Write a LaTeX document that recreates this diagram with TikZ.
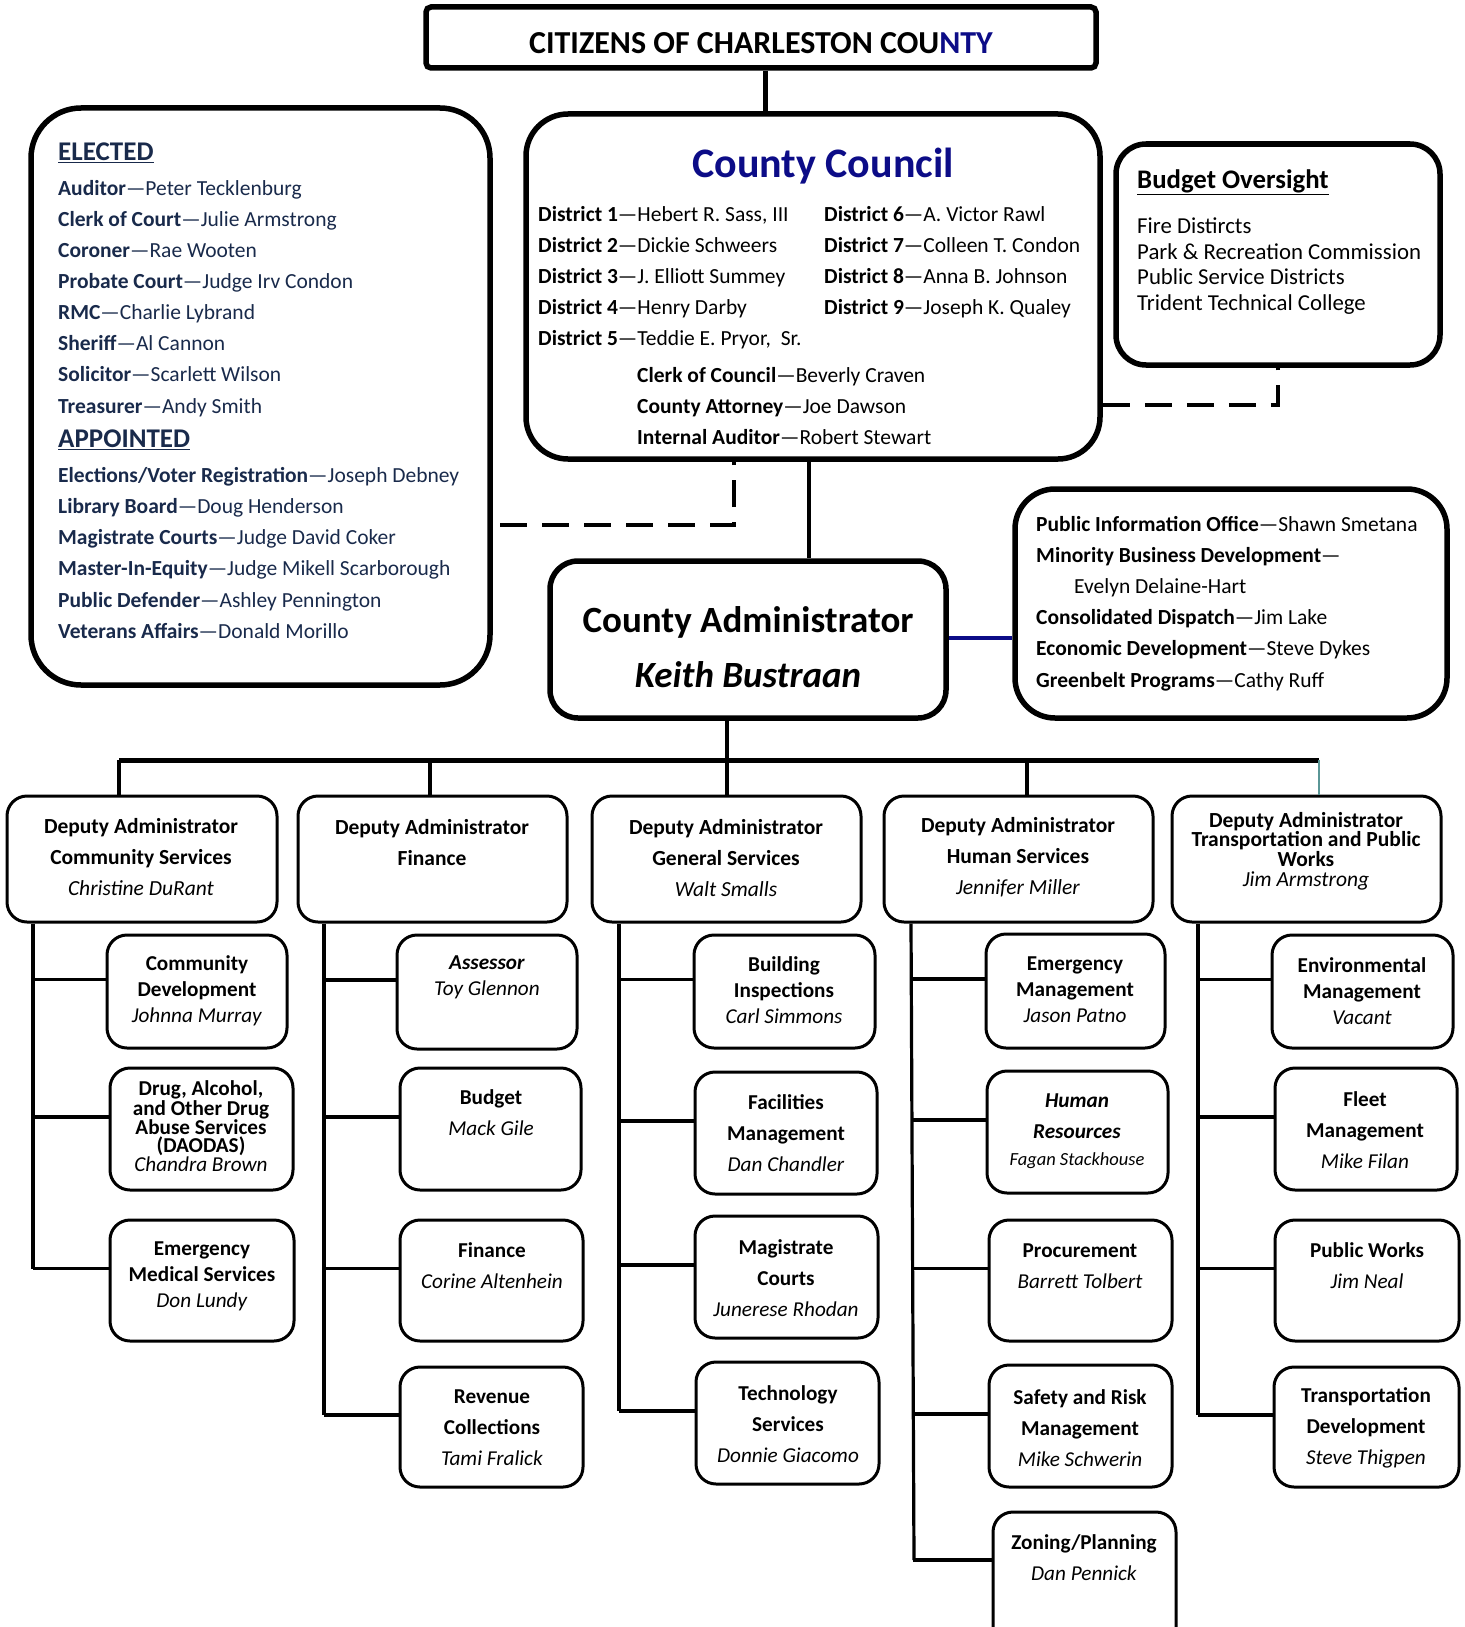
\documentclass[tikz,border=0pt]{standalone}
\usepackage{fontspec}
\setmainfont{Carlito}
\usetikzlibrary{calc}
\definecolor{navy}{RGB}{12,12,135}
\definecolor{lbt}{RGB}{25,42,75}
\definecolor{tealc}{RGB}{90,150,150}
\newcommand{\mkbox}[6]{\node[#1, minimum width={(#5-#3)*1pt}, minimum height={(#6-#4)*1pt}] (#2) at ({(#3+#5)/2},{(#4+#6)/2}) {};}
\begin{document}
\begin{tikzpicture}[x=1pt,y=-1pt,
  bigbox/.style={draw, line width=5.5pt, inner sep=0pt},
  depbox/.style={draw, line width=3pt, rounded corners=20pt, inner sep=0pt},
  subbox/.style={draw, line width=3pt, rounded corners=20pt, inner sep=0pt},
  conn/.style={line width=3.2pt},
  dconn/.style={line width=4.5pt, dash pattern=on 27pt off 15pt},
  lt/.style={anchor=mid west, inner sep=0pt, font=\fontsize{21.5}{24}\selectfont},
  dt/.style={align=center, inner sep=0pt},
]
\useasboundingbox (0,0) rectangle (1464,1627);
\clip (0,0) rectangle (1464,1627);

% top boxes
\mkbox{bigbox, rounded corners=5pt}{title}{426}{7}{1096}{68}
\mkbox{bigbox, rounded corners=50pt}{elected}{31}{108}{490}{685}
\mkbox{bigbox, rounded corners=42pt}{council}{526}{114}{1100}{459}
\mkbox{bigbox, rounded corners=30pt}{budget}{1116}{144}{1440}{365}
\mkbox{bigbox, rounded corners=28pt}{admin}{550}{561}{946}{718}
\mkbox{bigbox, rounded corners=40pt}{rbox}{1015}{489}{1447}{718}

% title text
\node[inner sep=0pt, font=\fontsize{32}{34}\selectfont\bfseries] (titlet) at (761,43) {CITIZENS OF CHARLESTON COU\textcolor{navy}{NTY}};

% elected / appointed
\node[lt, text=lbt, font=\fontsize{27}{29}\selectfont\bfseries] (elh) at (58,158) {\underline{ELECTED}};
\foreach \t [count=\i] in {{\textbf{Auditor}—Peter Tecklenburg},{\textbf{Clerk of Court}—Julie Armstrong},{\textbf{Coroner}—Rae Wooten},{\textbf{Probate Court}—Judge Irv Condon},{\textbf{RMC}—Charlie Lybrand},{\textbf{Sheriff}—Al Cannon},{\textbf{Solicitor}—Scarlett Wilson},{\textbf{Treasurer}—Andy Smith}}
  \node[lt, text=lbt] (el\i) at (58,{193+(\i-1)*31.1}) {\t};
\node[lt, text=lbt, font=\fontsize{27}{29}\selectfont\bfseries] (aph) at (58,445) {\underline{APPOINTED}};
\foreach \t [count=\i] in {{\textbf{Elections/Voter Registration}—Joseph Debney},{\textbf{Library Board}—Doug Henderson},{\textbf{Magistrate Courts}—Judge David Coker},{\textbf{Master-In-Equity}—Judge Mikell Scarborough},{\textbf{Public Defender}—Ashley Pennington},{\textbf{Veterans Affairs}—Donald Morillo}}
  \node[lt, text=lbt] (ap\i) at (58,{480+(\i-1)*31.2}) {\t};

% council
\node[inner sep=0pt, text=navy, font=\fontsize{42}{44}\selectfont\bfseries] (cct) at (823,166) {County Council};
\foreach \t [count=\i] in {{\textbf{District 1}—Hebert R. Sass, III},{\textbf{District 2}—Dickie Schweers},{\textbf{District 3}—J. Elliott Summey},{\textbf{District 4}—Henry Darby},{\textbf{District 5}—Teddie E. Pryor,\ \ Sr.}}
  \node[lt] (dl\i) at (538,{219+(\i-1)*31}) {\t};
\foreach \t [count=\i] in {{\textbf{District 6}—A. Victor Rawl},{\textbf{District 7}—Colleen T. Condon},{\textbf{District 8}—Anna B. Johnson},{\textbf{District 9}—Joseph K. Qualey}}
  \node[lt] (dr\i) at (824,{219+(\i-1)*31}) {\t};
\foreach \t [count=\i] in {{\textbf{Clerk of Council}—Beverly Craven},{\textbf{County Attorney}—Joe Dawson},{\textbf{Internal Auditor}—Robert Stewart}}
  \node[lt] (of\i) at (637,{380+(\i-1)*31}) {\t};

% budget oversight
\node[lt, font=\fontsize{26.8}{28}\selectfont\bfseries] (bot) at (1137,186) {\underline{Budget Oversight}};
\foreach \t [count=\i] in {Fire Distircts,Park \& Recreation Commission,Public Service Districts,Trident Technical College}
  \node[lt, font=\fontsize{22.8}{24}\selectfont] (bo\i) at (1137,{231+(\i-1)*25.7}) {\t};

% administrator
\node[inner sep=0pt, font=\fontsize{37}{40}\selectfont\bfseries] (admt1) at (748,622) {County Administrator};
\node[inner sep=0pt, font=\fontsize{37}{40}\selectfont\bfseries\itshape] (admt2) at (748,675) {Keith Bustraan};

% right box
\node[lt] (rb1) at (1036,529) {\textbf{Public Information Office}—Shawn Smetana};
\node[lt] (rb2) at (1036,560) {\textbf{Minority Business Development}—};
\node[lt] (rb3) at (1074,591) {Evelyn Delaine-Hart};
\node[lt] (rb4) at (1036,622) {\textbf{Consolidated Dispatch}—Jim Lake};
\node[lt] (rb5) at (1036,653) {\textbf{Economic Development}—Steve Dykes};
\node[lt] (rb6) at (1036,685) {\textbf{Greenbelt Programs}—Cathy Ruff};

% top connectors
\draw[line width=5pt] (title.south -| 765,0) -- (council.north -| 765,0);
\draw[conn] (council.south -| 809,0) -- (admin.north -| 809,0);
\coordinate (dlA) at (500,525);
\draw[dconn] (dlA) -- (734,525) -- (council.south -| 734,0);
\draw[dconn] (council.east |- 0,405) -- (1278,405) -- (budget.south -| 1278,0);
\draw[line width=3.5pt, navy] (admin.east |- 0,638) -- (rbox.west |- 0,638);

% deputy boxes
\mkbox{depbox}{d1}{7}{796}{277}{922}
\mkbox{depbox}{d2}{298}{796}{567}{922}
\mkbox{depbox}{d3}{592}{796}{861}{922}
\mkbox{depbox}{d4}{884}{796}{1153}{922}
\mkbox{depbox}{d5}{1172}{796}{1441}{922}

\coordinate (barL) at (119,760);
\coordinate (barR) at (1319,760);
\draw[conn] (admin.south -| 727,0) -- (barL -| 727,0);
\draw[line width=5pt] (barL) -- (barR);
\draw[conn] (barL) -- (d1.north -| barL);
\draw[conn] (barL -| 430,0) -- (d2.north -| 430,0);
\draw[conn] (barL -| 727,0) -- (d3.north -| 727,0);
\draw[conn] (barL -| 1027,0) -- (d4.north -| 1027,0);
\draw[line width=2pt, tealc] (barR) -- (d5.north -| barR);

\tikzset{dep/.style={dt, font=\fontsize{21.5}{31}\selectfont}}
\node[dep] (d1t) at (141,857) {\textbf{Deputy Administrator}\\\textbf{Community Services}\\\textit{Christine DuRant}};
\node[dep] (d2t) at (432,843) {\textbf{Deputy Administrator}\\\textbf{Finance}};
\node[dep] (d3t) at (726,858) {\textbf{Deputy Administrator}\\\textbf{General Services}\\\textit{Walt Smalls}};
\node[dep] (d4t) at (1018,857) {\textbf{Deputy Administrator}\\\textbf{Human Services}\\\textit{Jennifer Miller}};
\node[dt, font=\fontsize{21.5}{19.7}\selectfont] (d5t) at (1306,851) {\textbf{Deputy Administrator}\\\textbf{Transportation and Public}\\\textbf{Works}\\\textit{Jim Armstrong}};

% sub boxes
\mkbox{subbox}{cd}{107}{935}{287}{1048}
\mkbox{subbox}{da}{110}{1068}{293}{1190}
\mkbox{subbox}{em}{110}{1220}{294}{1341}
\mkbox{subbox}{as}{397}{935}{577}{1049}
\mkbox{subbox}{bu}{400}{1068}{581}{1190}
\mkbox{subbox}{fi}{400}{1220}{583}{1341}
\mkbox{subbox}{rc}{400}{1367}{583}{1487}
\mkbox{subbox}{bi}{694}{935}{875}{1048}
\mkbox{subbox}{fm}{695}{1072}{877}{1194}
\mkbox{subbox}{mc}{695}{1216}{878}{1338}
\mkbox{subbox}{ts}{696}{1362}{879}{1484}
\mkbox{subbox}{eg}{986}{934}{1165}{1048}
\mkbox{subbox}{hr}{987}{1071}{1168}{1193}
\mkbox{subbox}{pr}{989}{1220}{1172}{1341}
\mkbox{subbox}{sr}{989}{1365}{1172}{1487}
\mkbox{subbox}{zp}{993}{1512}{1176}{1660}
\mkbox{subbox}{en}{1272}{935}{1453}{1048}
\mkbox{subbox}{fl}{1275}{1068}{1457}{1190}
\mkbox{subbox}{pw}{1275}{1220}{1459}{1341}
\mkbox{subbox}{td}{1274}{1367}{1459}{1487}

% branch coordinates
\foreach \b in {cd,da,em,as,bu,fi,rc,bi,fm,mc,ts,eg,hr,pr,sr,en,fl,pw,td}
  \coordinate (\b b) at ($(\b.west)+(0,-12)$);
\coordinate (zpb) at (zp.west |- 0,1560);

\draw[conn] (d1.south -| 33,0) -- (emb -| 33,0);
\foreach \b in {cdb,dab,emb} \draw[conn] (\b -| 33,0) -- (\b);
\draw[conn] (d2.south -| 324,0) -- (rcb -| 324,0);
\foreach \b in {asb,bub,fib,rcb} \draw[conn] (\b -| 324,0) -- (\b);
\draw[conn] (d3.south -| 619,0) -- (tsb -| 619,0);
\foreach \b in {bib,fmb,mcb,tsb} \draw[conn] (\b -| 619,0) -- (\b);
\draw[conn] (d4.south -| 911,0) -- (zpb -| 914,0);
\foreach \b in {egb,hrb,prb,srb,zpb} \draw[conn] (\b -| 913,0) -- (\b);
\draw[conn] (d5.south -| 1198,0) -- (tdb -| 1198,0);
\foreach \b in {enb,flb,pwb,tdb} \draw[conn] (\b -| 1198,0) -- (\b);

% sub box texts
\tikzset{s26/.style={dt, font=\fontsize{21.2}{26}\selectfont}, s31/.style={dt, font=\fontsize{21.2}{31}\selectfont}}
\node[s26] (cdt) at (197,991) {\textbf{Community}\\\textbf{Development}\\\textit{Johnna Murray}};
\node[dt, font=\fontsize{21.2}{18.3}\selectfont] (dat) at (201,1126) {\textbf{Drug, Alcohol,}\\\textbf{and Other Drug}\\\textbf{Abuse Services}\\\textbf{(DAODAS)}\\\textit{Chandra Brown}};
\node[s26] (emt) at (202,1276) {\textbf{Emergency}\\\textbf{Medical Services}\\\textit{Don Lundy}};
\node[s26] (ast) at (487,977) {\textbf{\textit{Assessor}}\\\textit{Toy Glennon}};
\node[s31] (but) at (491,1113) {\textbf{Budget}\\\textit{Mack Gile}};
\node[s31] (fit) at (492,1266) {\textbf{Finance}\\\textit{Corine Altenhein}};
\node[s31] (rct) at (492,1428) {\textbf{Revenue}\\\textbf{Collections}\\\textit{Tami Fralick}};
\node[s26] (bit) at (784,990) {\textbf{Building}\\\textbf{Inspections}\\\textit{Carl Simmons}};
\node[s31] (fmt) at (786,1133) {\textbf{Facilities}\\\textbf{Management}\\\textit{Dan Chandler}};
\node[s31] (mct) at (786,1278) {\textbf{Magistrate}\\\textbf{Courts}\\\textit{Junerese Rhodan}};
\node[s31] (tst) at (788,1424) {\textbf{Technology}\\\textbf{Services}\\\textit{Donnie Giacomo}};
\node[s26] (egt) at (1075,990) {\textbf{Emergency}\\\textbf{Management}\\\textit{Jason Patno}};
\node[dt, font=\fontsize{21.2}{31}\selectfont] (hrt1) at (1077,1116) {\textbf{\textit{Human}}\\\textbf{\textit{Resources}}};
\node[dt, font=\fontsize{18.5}{20}\selectfont] (hrt2) at (1077,1161) {\textit{Fagan Stackhouse}};
\node[s31] (prt) at (1080,1266) {\textbf{Procurement}\\\textit{Barrett Tolbert}};
\node[s31] (srt) at (1080,1428) {\textbf{Safety and Risk}\\\textbf{Management}\\\textit{Mike Schwerin}};
\node[s31] (zpt) at (1084,1558) {\textbf{Zoning/Planning}\\\textit{Dan Pennick}};
\node[s26] (ent) at (1362,991) {\textbf{Environmental}\\\textbf{Management}\\\textit{Vacant}};
\node[s31] (flt) at (1365,1130) {\textbf{Fleet}\\\textbf{Management}\\\textit{Mike Filan}};
\node[s31] (pwt) at (1367,1266) {\textbf{Public Works}\\\textit{Jim Neal}};
\node[s31] (tdt) at (1366,1428) {\textbf{Transportation}\\\textbf{Development}\\\textit{Steve Thigpen}};
\end{tikzpicture}
\end{document}
